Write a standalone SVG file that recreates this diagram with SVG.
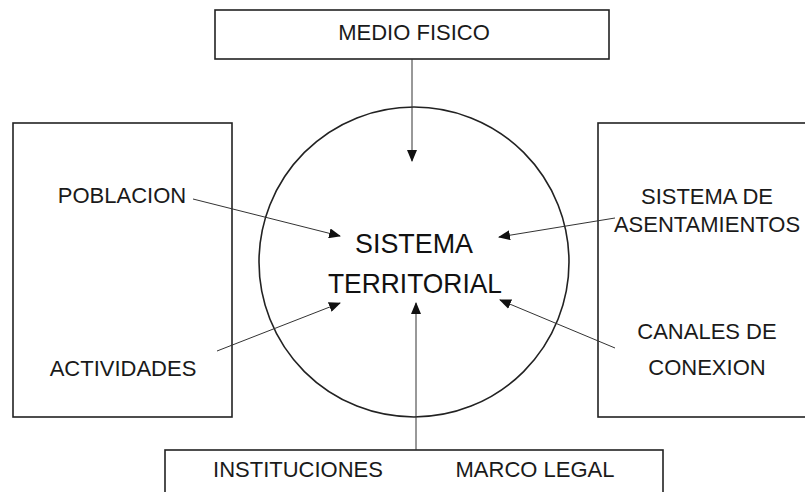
<svg xmlns="http://www.w3.org/2000/svg" width="805" height="492" viewBox="0 0 805 492">
<defs>
<marker id="ah" markerWidth="12" markerHeight="10" refX="11" refY="5" orient="auto" markerUnits="userSpaceOnUse">
<path d="M0,0 L12,5 L0,10 z" fill="#111"/>
</marker>
<style>
.box{fill:#fff;stroke:#222;stroke-width:1.6}
.lbl{font-family:"Liberation Sans",Arial,sans-serif;font-size:22px;fill:#1a1a1a;text-anchor:middle}
.big{font-family:"Liberation Sans",Arial,sans-serif;font-size:28px;fill:#111;text-anchor:middle}
.con{stroke:#333;stroke-width:1;fill:none;marker-end:url(#ah)}
</style>
</defs>
<rect width="805" height="492" fill="#fff"/>
<g id="medio-fisico">
<rect class="box" x="215" y="10" width="394" height="49"/>
<text class="lbl" x="414" y="40">MEDIO FISICO</text>
</g>
<g id="left-box">
<rect class="box" x="13" y="123" width="219" height="294"/>
<text class="lbl" x="122" y="203">POBLACION</text>
<text class="lbl" x="123" y="376">ACTIVIDADES</text>
</g>
<g id="right-box">
<rect class="box" x="598" y="123" width="220" height="294"/>
<text class="lbl" x="707" y="204">SISTEMA DE</text>
<text class="lbl" x="707" y="232">ASENTAMIENTOS</text>
<text class="lbl" x="707" y="339">CANALES DE</text>
<text class="lbl" x="707" y="375">CONEXION</text>
</g>
<g id="sistema-territorial">
<circle cx="414" cy="262" r="155" fill="none" stroke="#222" stroke-width="1.6"/>
<text class="big" x="414" y="253" textLength="118" lengthAdjust="spacingAndGlyphs">SISTEMA</text>
<text class="big" x="415" y="293" textLength="174" lengthAdjust="spacingAndGlyphs">TERRITORIAL</text>
</g>
<g id="instituciones">
<rect class="box" x="165" y="450" width="498" height="60"/>
<text class="lbl" x="298" y="477">INSTITUCIONES</text>
<text class="lbl" x="535" y="477">MARCO LEGAL</text>
</g>
<g id="connectors">
<line class="con" x1="412" y1="59" x2="412" y2="161"/>
<line class="con" x1="193" y1="199" x2="340" y2="236"/>
<line class="con" x1="217" y1="351" x2="340" y2="303"/>
<line class="con" x1="615" y1="218" x2="499" y2="237"/>
<line class="con" x1="615" y1="348" x2="500" y2="300"/>
<line class="con" x1="416" y1="450" x2="416" y2="303"/>
</g>
</svg>
